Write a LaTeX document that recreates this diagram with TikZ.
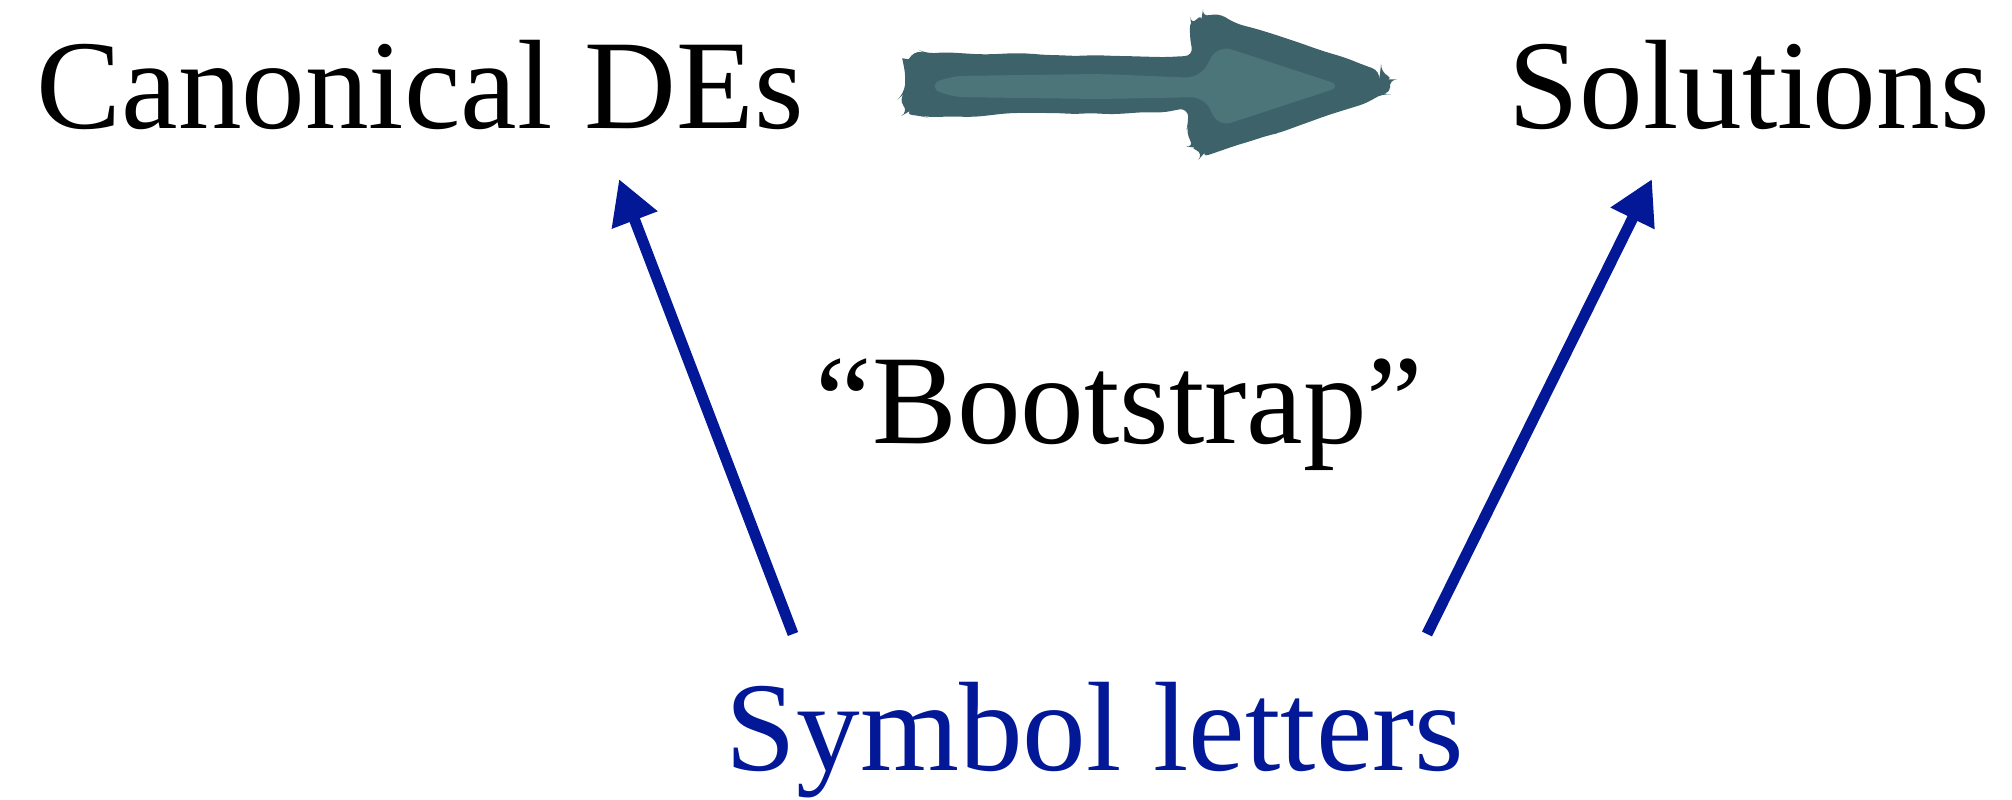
\documentclass[tikz,border=0pt]{standalone}
\usepackage{fontspec}
\setmainfont{Liberation Serif}
\usetikzlibrary{arrows.meta,decorations.pathmorphing}
\definecolor{symblue}{RGB}{2,24,150}
\definecolor{tealdark}{RGB}{62,98,106}
\definecolor{teallight}{RGB}{76,117,122}
\tikzset{
  lbl/.style={anchor=base west,inner sep=0pt,font=\fontsize{36.2}{40}\selectfont},
  bluearrow/.style={draw=symblue,line width=0.11cm,-{Triangle[length=0.44cm,width=0.46cm]}},
  wobble/.style={decorate,decoration={random steps,segment length=5pt,amplitude=0.4pt},rounded corners=2.5pt}
}
\begin{document}
\begin{tikzpicture}
\pgfmathsetseed{7}
\useasboundingbox (0,0) rectangle (20.12,-7.99);
% text nodes
\node[lbl] (can) at (0.36,-1.28) {Canonical DEs};
\node[lbl] (sol) at (15.08,-1.28) {Solutions};
\node[lbl] (boot) at (8.15,-4.43) {“Bootstrap”};
\node[lbl,text=symblue] (sym) at (7.25,-7.70) {Symbol letters};
% connector end points
\coordinate (la) at (7.93,-6.34);
\coordinate (lb) at (6.19,-1.79);
\coordinate (ra) at (14.27,-6.34);
\coordinate (rb) at (16.52,-1.79);
\draw[bluearrow] (la) -- (lb);
\draw[bluearrow] (ra) -- (rb);
% big hand-drawn arrow
\fill[tealdark,wobble]
  (9.03,-0.66) -- (9.12,-0.55) -- (9.35,-0.53) -- (10.5,-0.55) -- (11.6,-0.57) -- (11.88,-0.56)
  -- (11.9,-0.27) -- (11.97,-0.19) -- (12.1,-0.15) -- (12.6,-0.30) -- (13.2,-0.50) -- (13.72,-0.68)
  -- (13.88,-0.76) -- (13.9,-0.88) -- (13.75,-0.98) -- (13.2,-1.18) -- (12.6,-1.38) -- (12.08,-1.55)
  -- (11.96,-1.50) -- (11.9,-1.40) -- (11.88,-1.13) -- (10.5,-1.13) -- (9.35,-1.17) -- (9.12,-1.15)
  -- (9.03,-1.05) -- (9.05,-0.85) -- cycle;
\fill[teallight,rounded corners=4pt]
  (9.27,-0.86) -- (9.5,-0.76) -- (11.0,-0.74) -- (12.0,-0.78)
  -- (12.18,-0.45) -- (13.43,-0.86) -- (12.18,-1.27)
  -- (12.05,-0.97) -- (11.0,-0.99) -- (9.5,-0.97) -- cycle;
\end{tikzpicture}
\end{document}
